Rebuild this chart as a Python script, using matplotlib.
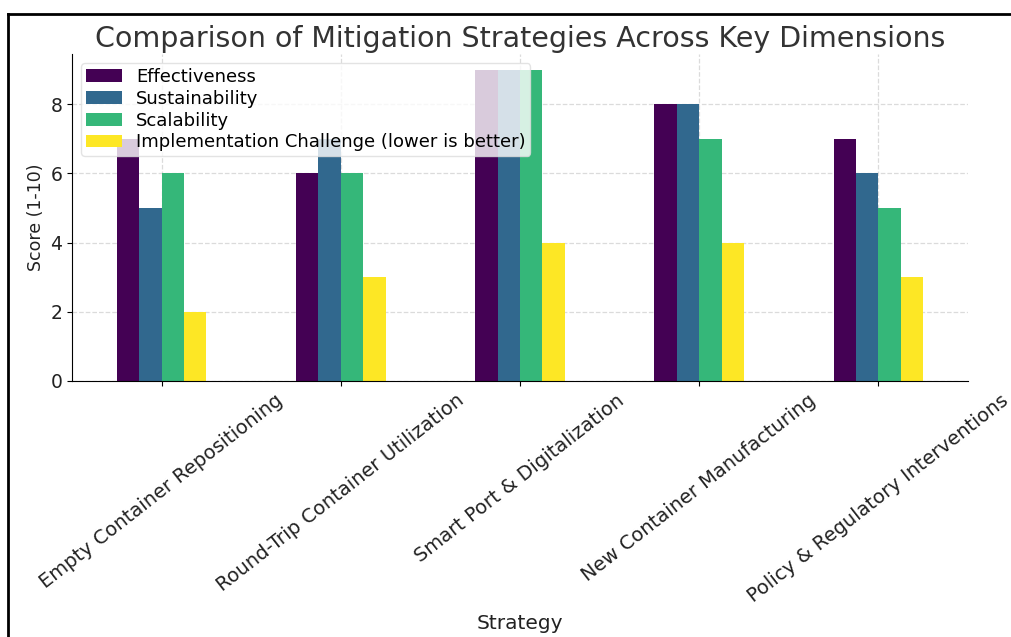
import numpy as np
import matplotlib
matplotlib.use("Agg")
import matplotlib.pyplot as plt
from matplotlib.lines import Line2D

strategies = [
    "Empty Container Repositioning",
    "Round-Trip Container Utilization",
    "Smart Port & Digitalization",
    "New Container Manufacturing",
    "Policy & Regulatory Interventions",
]
series_names = [
    "Effectiveness",
    "Sustainability",
    "Scalability",
    "Implementation Challenge (lower is better)",
]
effectiveness = [7, 6, 9, 8, 7]
sustainability = [5, 7, 9, 8, 6]
scalability = [6, 6, 9, 7, 5]
implementation_challenge = [2, 3, 4, 4, 3]

series_values = [effectiveness, sustainability, scalability, implementation_challenge]
colors = [plt.cm.viridis(v) for v in np.linspace(0, 1, len(series_values))]

fig = plt.figure(figsize=(10.11, 6.37), dpi=100)
ax = fig.add_axes([0.0712, 0.4019, 0.8863, 0.5133])

x = np.arange(len(strategies))
n = len(series_values)
width = 0.5 / n
for i, (name, vals, c) in enumerate(zip(series_names, series_values, colors)):
    offset = (i - (n - 1) / 2) * width
    ax.bar(x + offset, vals, width, color=c, label=name, zorder=2)

ax.set_xlim(-0.5, len(strategies) - 0.5)
ax.set_ylim(0, 9.45)
ax.set_yticks([0, 2, 4, 6, 8])
ax.set_xticks(x)
ax.set_xticklabels(strategies, rotation=38, ha="center", fontsize=14, color="#222222")
ax.tick_params(axis="y", labelsize=13.5, labelcolor="#222222")
ax.set_axisbelow(True)
ax.grid(True, linestyle="--", color="#cccccc", alpha=0.7, linewidth=0.9)

for side in ("top", "right"):
    ax.spines[side].set_visible(False)

ax.set_title("Comparison of Mitigation Strategies Across Key Dimensions",
             fontsize=20.5, color="#333333", pad=5)
ax.set_xlabel("Strategy", fontsize=14.5, color="#222222", labelpad=6)
ax.set_ylabel("Score (1-10)", fontsize=12.5, color="#222222")

ax.legend(loc="upper left", fontsize=13, framealpha=0.8, edgecolor="#dddddd",
          labelspacing=0.22, handletextpad=0.8, borderpad=0.25)

# frame lines along the top and left edge of the image
fig.add_artist(Line2D([8 / 1011, 1.0], [1 - 14 / 637, 1 - 14 / 637],
                      transform=fig.transFigure, color="black", linewidth=2))
fig.add_artist(Line2D([8 / 1011, 8 / 1011], [0, 1 - 14 / 637],
                      transform=fig.transFigure, color="black", linewidth=2))

fig.savefig("out.png", dpi=100)
